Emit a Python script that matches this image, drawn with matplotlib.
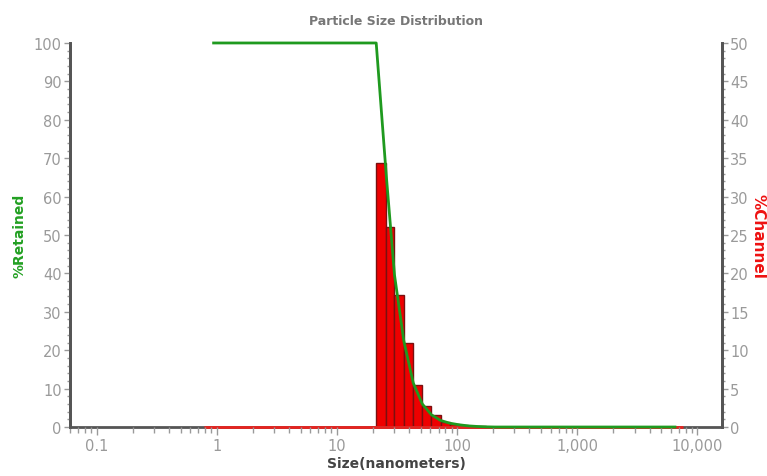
import matplotlib
matplotlib.use("Agg")
import matplotlib.pyplot as plt
import numpy as np
from matplotlib.ticker import FixedLocator, FixedFormatter, MultipleLocator, LogLocator, NullFormatter

# channel bin edges (nm) and % in each channel
channel_edges = [21.2, 25.7, 30.1, 36.0, 43.1, 51.3, 61.0, 72.9, 86.7, 103, 123, 146, 174, 207]
channel_pct = [34.4, 26.0, 17.2, 10.9, 5.5, 2.8, 1.5, 0.7, 0.4, 0.3, 0.15, 0.1, 0.05]

# cumulative % retained
retained_size = [0.94, 21.2, 25.7, 30.1, 36.0, 43.1, 51.3, 61.0, 72.9, 86.7, 103, 123, 146, 174, 207, 6500]
retained_pct = [100, 100, 65.6, 39.6, 22.4, 11.5, 6.0, 3.2, 1.7, 1.0, 0.6, 0.3, 0.15, 0.05, 0, 0]

# zero line of the channel series
zero_size = [0.78, 7600]
zero_pct = [0, 0]

xtick_vals = [0.1, 1, 10, 100, 1000, 10000]
xtick_labels = ["0.1", "1", "10", "100", "1,000", "10,000"]

grey = "#9a9a9a"
spine = "#555555"

fig = plt.figure(figsize=(7.67, 4.77), dpi=100)
ax = fig.add_axes([0.0913, 0.1027, 0.8500, 0.8051])
ax2 = ax.twinx()

edges = np.array(channel_edges)
ax2.bar(edges[:-1], channel_pct, width=np.diff(edges), align="edge",
        color="#ee0000", edgecolor="#7a1010", linewidth=1, zorder=2)
ax2.plot(zero_size, zero_pct, color="#e8231f", lw=2, zorder=3, clip_on=False,
         solid_capstyle="butt")
ax.plot(retained_size, retained_pct, color="#1f9a1f", lw=2, zorder=3, clip_on=False)

ax.set_zorder(ax2.get_zorder() + 1)
ax.patch.set_visible(False)

ax.set_xscale("log")
ax.set_xlim(0.06, 16000)
ax.set_ylim(0, 100)
ax2.set_ylim(0, 50)

ax.xaxis.set_major_locator(FixedLocator(xtick_vals))
ax.xaxis.set_major_formatter(FixedFormatter(xtick_labels))
ax.xaxis.set_minor_locator(LogLocator(base=10, subs=np.arange(2, 10)))
ax.xaxis.set_minor_formatter(NullFormatter())

ax.yaxis.set_major_locator(MultipleLocator(10))
ax.yaxis.set_minor_locator(MultipleLocator(2))
ax2.yaxis.set_major_locator(MultipleLocator(5))
ax2.yaxis.set_minor_locator(MultipleLocator(1))

for a in (ax, ax2):
    a.spines["top"].set_visible(False)
    for s in ("left", "right", "bottom"):
        a.spines[s].set_color(spine)
        a.spines[s].set_linewidth(2)
    a.tick_params(which="both", colors=grey, labelcolor=grey, labelsize=10.5, width=1)
    a.tick_params(which="major", length=4, pad=2)
    a.tick_params(which="minor", length=2.5)
ax.spines["bottom"].set_visible(False)
ax.tick_params(axis="x", which="major", length=6, pad=2)
ax.tick_params(axis="x", which="minor", length=4)

ax.set_title("Particle Size Distribution", fontsize=9, fontweight="bold", color="#777777", pad=14)
ax.set_xlabel("Size(nanometers)", fontsize=10, fontweight="bold", color="#444444", labelpad=2)
ax.set_ylabel("%Retained", fontsize=10, fontweight="bold", color="#22a022", labelpad=5)
ax2.set_ylabel("%Channel", fontsize=11, fontweight="bold", color="#ee1111", rotation=270, labelpad=12)

fig.savefig("out.png", dpi=100, facecolor="white")
